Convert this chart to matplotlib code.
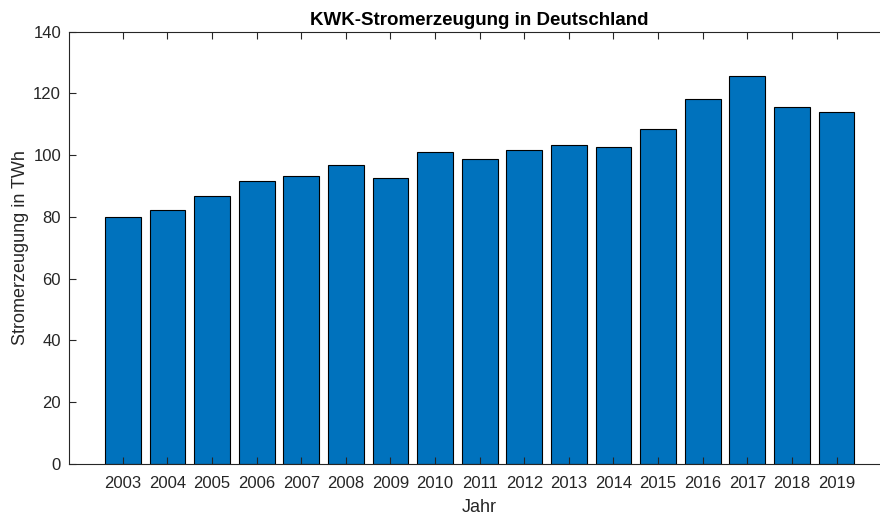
import matplotlib
matplotlib.use("Agg")
import matplotlib.pyplot as plt

years = [2003, 2004, 2005, 2006, 2007, 2008, 2009, 2010, 2011,
         2012, 2013, 2014, 2015, 2016, 2017, 2018, 2019]
values = [80.0, 82.2, 86.8, 91.7, 93.3, 96.8, 92.5, 100.9, 98.7,
          101.6, 103.2, 102.7, 108.6, 118.3, 125.7, 115.7, 114.1]
yticks = [0, 20, 40, 60, 80, 100, 120, 140]

plt.rcParams['font.family'] = ['Liberation Sans', 'DejaVu Sans']
txt = '#262626'

fig = plt.figure(figsize=(8.8, 5.16), dpi=100)
ax = fig.add_axes([0.0788, 0.1008, 0.9326, 0.8378])
ax.bar(years, values, width=0.8, color='#0072BD', edgecolor='black', linewidth=0.8)

ax.set_xlim(2001.8, 2020.2)
ax.set_ylim(0, 140)
ax.set_xticks(years)
ax.set_xticklabels([str(y) for y in years])
ax.set_yticks(yticks)

for s in ax.spines.values():
    s.set_color(txt)
    s.set_linewidth(0.8)
ax.tick_params(axis='both', direction='in', length=4.8, width=0.8,
               colors=txt, labelsize=12, labelcolor=txt, pad=6)
ax.tick_params(axis='x', top=True, pad=9)

ax.set_title('KWK-Stromerzeugung in Deutschland', fontsize=13.5, fontweight='bold',
             color='black', pad=4.8)
ax.set_xlabel('Jahr', fontsize=13, color=txt, labelpad=5.5)
ax.set_ylabel('Stromerzeugung in TWh', fontsize=13, color=txt, labelpad=3)

fig.savefig('out.png', dpi=100)
